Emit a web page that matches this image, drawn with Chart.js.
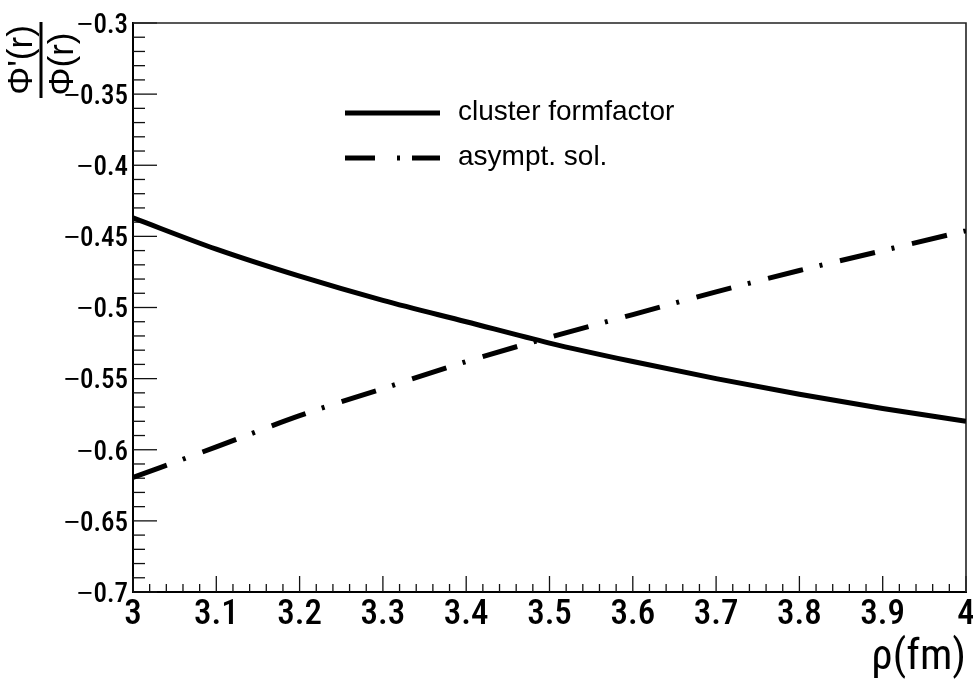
<!DOCTYPE html>
<html>
<head>
<meta charset="utf-8">
<title>Phi'(r)/Phi(r) vs rho</title>
<script src="https://cdn.jsdelivr.net/npm/chart.js@4.4.1/dist/chart.umd.min.js"></script>
<style>
  /* long minus sign borrowed from Liberation Sans, digits from Roboto Condensed */
  @font-face { font-family: 'RootMinus'; src: local('Liberation Sans'); unicode-range: U+2212; }
  html, body { margin: 0; padding: 0; background: #fff; }
  #wrap { width: 973px; height: 680px; }
</style>
</head>
<body>
<div id="wrap"><canvas id="derivChart" width="973" height="680"></canvas></div>
<script>
// values
const rho = [3.0, 3.1, 3.2, 3.3, 3.4, 3.5, 3.6, 3.7, 3.8, 3.9, 4.0];
const clusterFormfactor = [-0.437, -0.459, -0.478, -0.495, -0.510, -0.525, -0.538, -0.550, -0.561, -0.571, -0.580];
const asymptSol = [-0.6195, -0.598, -0.576, -0.557, -0.538, -0.521, -0.505, -0.489, -0.474, -0.460, -0.446];

const xTickValues = [3, 3.1, 3.2, 3.3, 3.4, 3.5, 3.6, 3.7, 3.8, 3.9, 4];
const xTickLabels = ['3', '3.1', '3.2', '3.3', '3.4', '3.5', '3.6', '3.7', '3.8', '3.9', '4'];
const yTickValues = [-0.7, -0.65, -0.6, -0.55, -0.5, -0.45, -0.4, -0.35, -0.3];
const yTickLabels = ['\u22120.7', '\u22120.65', '\u22120.6', '\u22120.55', '\u22120.5', '\u22120.45', '\u22120.4', '\u22120.35', '\u22120.3'];
const seriesNames = ['cluster formfactor', 'asympt. sol.'];

const NARROW = 'RootMinus, "Roboto Condensed", "Liberation Sans", Arial, sans-serif';
const SANS = '"Liberation Sans", Arial, sans-serif';

function toPoints(ys) {
  return rho.map((x, i) => ({ x, y: ys[i] }));
}

// ROOT style: ticks inside the frame, thin top/right border
const rootFrame = {
  id: 'rootFrame',
  beforeDatasetsDraw(chart) {
    const { ctx, chartArea: a, scales: { x, y } } = chart;
    ctx.save();
    ctx.strokeStyle = '#111';
    ctx.lineWidth = 1.3;
    const xStep = (x.max - x.min) / 50;
    for (let i = 0; i <= 50; i++) {
      const px = x.getPixelForValue(x.min + i * xStep);
      const len = i % 5 === 0 ? 16 : 8;
      ctx.beginPath();
      ctx.moveTo(px, a.bottom);
      ctx.lineTo(px, a.bottom - len);
      ctx.stroke();
    }
    const yStep = (y.max - y.min) / 40;
    for (let i = 0; i <= 40; i++) {
      const py = y.getPixelForValue(y.min + i * yStep);
      const len = i % 5 === 0 ? 24 : 12;
      ctx.beginPath();
      ctx.moveTo(a.left, py);
      ctx.lineTo(a.left + len, py);
      ctx.stroke();
    }
    ctx.lineWidth = 1.6;
    ctx.strokeStyle = '#222';
    ctx.beginPath();
    ctx.moveTo(a.left, a.top);
    ctx.lineTo(a.right, a.top);
    ctx.lineTo(a.right, a.bottom);
    ctx.stroke();
    ctx.restore();
  }
};

const legendBox = {
  id: 'legendBox',
  afterDatasetsDraw(chart) {
    const { ctx } = chart;
    const rows = [113, 158];
    const dashes = [[], [30, 22, 3, 12]];
    ctx.save();
    chart.data.datasets.forEach((ds, i) => {
      ctx.strokeStyle = ds.borderColor;
      ctx.lineWidth = ds.borderWidth;
      ctx.lineCap = 'butt';
      ctx.setLineDash(dashes[i]);
      ctx.beginPath();
      ctx.moveTo(345, rows[i]);
      ctx.lineTo(440, rows[i]);
      ctx.stroke();
      ctx.setLineDash([]);
      ctx.fillStyle = '#000';
      ctx.font = '28px ' + SANS;
      ctx.textAlign = 'left';
      ctx.textBaseline = 'middle';
      ctx.fillText(ds.label, 458, rows[i] - 1);
    });
    ctx.restore();
  }
};

const yTitle = {
  id: 'yTitle',
  afterDraw(chart) {
    const { ctx } = chart;
    ctx.save();
    ctx.fillStyle = '#000';
    ctx.font = '35px ' + SANS;
    ctx.textAlign = 'center';
    ctx.textBaseline = 'middle';
    ctx.save();
    ctx.translate(22, 60);
    ctx.rotate(-Math.PI / 2);
    ctx.fillText("\u03A6'(r)", 0, 0);
    ctx.restore();
    ctx.save();
    ctx.translate(63, 64);
    ctx.rotate(-Math.PI / 2);
    ctx.fillText('\u03A6(r)', 0, 0);
    ctx.restore();
    ctx.fillRect(39.5, 22, 3, 76);
    ctx.restore();
  }
};

function renderChart() {
  const ctx = document.getElementById('derivChart').getContext('2d');
  new Chart(ctx, {
    type: 'line',
    data: {
      datasets: [{
        label: seriesNames[0],
        data: toPoints(clusterFormfactor),
        borderColor: '#000',
        borderWidth: 5,
        pointRadius: 0,
        cubicInterpolationMode: 'monotone',
        fill: false
      }, {
        label: seriesNames[1],
        data: toPoints(asymptSol),
        borderColor: '#000',
        borderWidth: 5,
        borderDash: [36, 17, 3, 18],
        borderCapStyle: 'butt',
        pointRadius: 0,
        cubicInterpolationMode: 'monotone',
        fill: false
      }]
    },
    options: {
      responsive: false,
      animation: false,
      layout: { padding: { top: 23, right: 7, left: 0, bottom: 0 } },
      plugins: { legend: { display: false }, tooltip: { enabled: false } },
      scales: {
        x: {
          type: 'linear', min: 3, max: 4,
          afterBuildTicks: s => { s.ticks = xTickValues.map(v => ({ value: v })); },
          afterFit: s => { s.height = 88; s.paddingLeft = 0; s.paddingRight = 0; },
          grid: { display: false, drawTicks: false },
          border: { display: true, color: '#000', width: 2 },
          ticks: {
            autoSkip: false, maxRotation: 0, padding: 6, color: '#000',
            font: { family: NARROW, size: 35, weight: '500', lineHeight: 1 },
            callback: (v, i) => xTickLabels[i]
          },
          title: {
            display: true, text: '\u03C1(fm)', align: 'end', color: '#000',
            font: { family: NARROW, size: 43, lineHeight: 1 },
            padding: { top: 0, bottom: 0 }
          }
        },
        y: {
          type: 'linear', min: -0.7, max: -0.3,
          afterBuildTicks: s => { s.ticks = yTickValues.map(v => ({ value: v })); },
          afterFit: s => { s.width = 133; s.paddingTop = 0; s.paddingBottom = 0; },
          grid: { display: false, drawTicks: false },
          border: { display: true, color: '#000', width: 2 },
          ticks: {
            padding: 5, labelOffset: 3, color: '#000',
            font: { family: NARROW, size: 27, weight: '500', lineHeight: 1 },
            callback: (v, i) => yTickLabels[i]
          }
        }
      }
    },
    plugins: [rootFrame, legendBox, yTitle]
  });
}

// wait for the local minus face before drawing on the canvas
document.addEventListener('DOMContentLoaded', () => {
  document.fonts.load('500 27px RootMinus', '\u2212').then(renderChart, renderChart);
});
</script>
</body>
</html>
